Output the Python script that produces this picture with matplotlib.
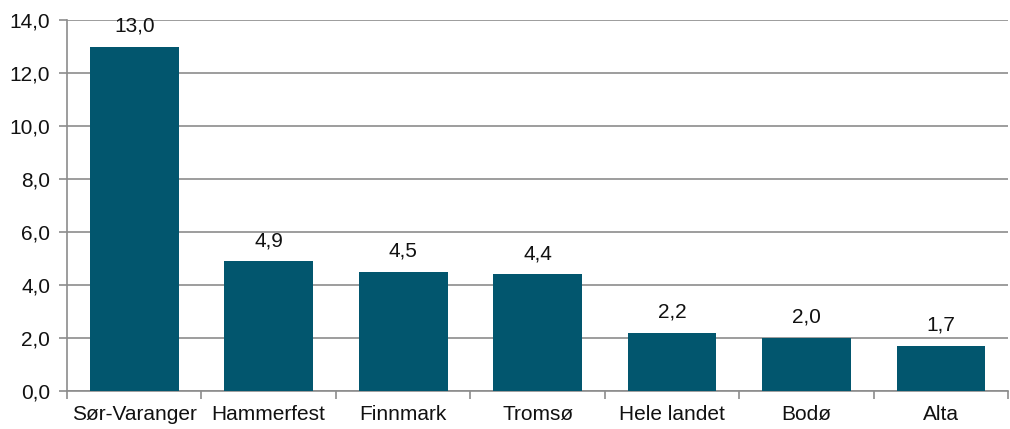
import matplotlib.pyplot as plt
from matplotlib.ticker import FixedLocator, FuncFormatter

places = ["Sør-Varanger", "Hammerfest", "Finnmark", "Tromsø", "Hele landet", "Bodø", "Alta"]
values = [13.0, 4.9, 4.5, 4.4, 2.2, 2.0, 1.7]

plt.rcParams['font.family'] = ['Liberation Sans', 'DejaVu Sans']

fig = plt.figure(figsize=(10.10, 4.29), dpi=100)
ax = fig.add_axes([0.0663, 0.0886, 0.932, 0.864])

x = list(range(len(places)))
bars = ax.bar(x, values, width=0.66, color="#02566E", zorder=3)

for b, v in zip(bars, values):
    ax.annotate(f"{v:.1f}".replace(".", ","), (b.get_x() + b.get_width() / 2, v),
                xytext=(0, 8), textcoords="offset points",
                ha="center", va="bottom", fontsize=15, color="#111111")

ax.set_xlim(-0.5, len(places) - 0.5)
ax.set_ylim(0, 14)
ax.set_yticks(range(0, 15, 2))
ax.yaxis.set_major_formatter(FuncFormatter(lambda v, p: f"{v:.1f}".replace(".", ",")))
ax.set_xticks(x)
ax.set_xticklabels(places)
ax.xaxis.set_minor_locator(FixedLocator([i - 0.5 for i in range(len(places) + 1)]))

ax.grid(axis="y", color="#8c8c8c", linewidth=1.2, zorder=0)
ax.tick_params(axis="x", which="major", length=0, pad=10, labelsize=15, colors="#111111")
ax.tick_params(axis="x", which="minor", length=6, width=1.2, color="#8c8c8c", direction="out")
ax.tick_params(axis="y", length=6, width=1.2, color="#8c8c8c", pad=6, labelsize=15, labelcolor="#111111")

for s in ["top", "right"]:
    ax.spines[s].set_visible(False)
for s in ["left", "bottom"]:
    ax.spines[s].set_color("#8c8c8c")
    ax.spines[s].set_linewidth(1.2)

fig.savefig("out.png", dpi=100)
